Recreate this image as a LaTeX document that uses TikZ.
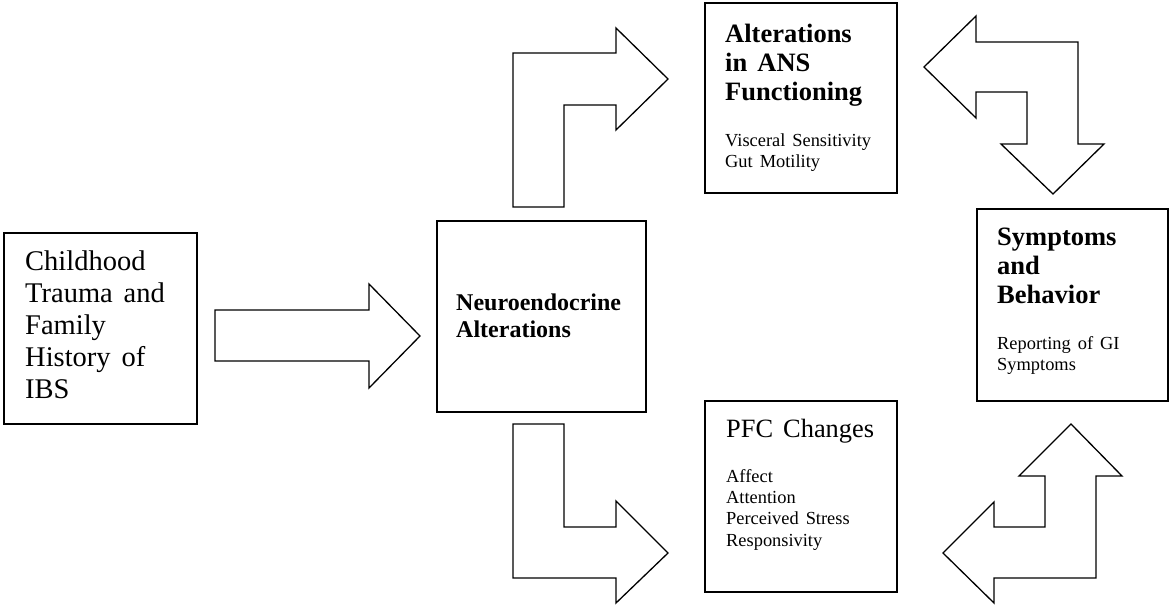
\documentclass[tikz,border=0pt]{standalone}
\usepackage{fontspec}
\setmainfont{Liberation Serif}
\usepackage{tikz}

\newcommand{\wordgap}{\spaceskip=0.38em plus 0.05em\relax}
\newcommand{\bigtext}{\fontsize{28.5}{32}\selectfont\wordgap}
\newcommand{\headtext}{\fontsize{26.5}{29}\selectfont\bfseries\wordgap}
\newcommand{\itemtext}{\fontsize{18.4}{21.3}\selectfont\mdseries\wordgap}

\tikzset{
  box/.style={draw, line width=1.8pt, inner sep=0pt},
  boxtext/.style={anchor=base west, inner sep=0pt, align=left},
  blockarrow/.style={draw, line width=1.3pt, line join=miter, fill=white}
}

\begin{document}
\begin{tikzpicture}[x=1pt, y=-1pt]
  \fill[white] (0,0) rectangle (1170,606);
  \useasboundingbox (0,0) rectangle (1170,606);

  % boxes
  \node (child) at (100.5,328.5) [box, minimum width=193pt, minimum height=191pt] {};
  \node (neuro) at (541.5,316.5) [box, minimum width=209pt, minimum height=191pt] {};
  \node (ans) at (801,98) [box, minimum width=192pt, minimum height=190pt] {};
  \node (pfc) at (801,496.5) [box, minimum width=192pt, minimum height=191pt] {};
  \node (symp) at (1072.5,305) [box, minimum width=191pt, minimum height=192pt] {};

  % box texts
  \node (childtext) at (25,270) [boxtext, text width=172pt] {\bigtext Childhood\\Trauma and\\Family\\History of\\IBS\par};
  \node (neurotext) at (456,310) [boxtext, text width=185pt] {\fontsize{24}{27}\selectfont\bfseries Neuroendocrine\\Alterations\par};
  \node (anstext) at (725,42) [boxtext, text width=168pt] {\headtext Alterations\\in ANS\\Functioning\par\vspace{25pt}\itemtext Visceral Sensitivity\\Gut Motility\par};
  \node (pfctext) at (726,437) [boxtext, text width=168pt] {\fontsize{26.4}{29}\selectfont\wordgap PFC Changes\par\vspace{24pt}\itemtext Affect\\Attention\\Perceived Stress\\Responsivity\par};
  \node (symptext) at (997,245) [boxtext, text width=165pt] {\headtext Symptoms\\and\\Behavior\par\vspace{25pt}\itemtext Reporting of GI\\Symptoms\par};

  % block arrows
  \draw[blockarrow] (215,310) -- (369,310) -- (369,284) -- (420,336) -- (369,388) -- (369,361) -- (215,361) -- cycle;
  \draw[blockarrow] (513,207) -- (513,53) -- (616,53) -- (616,28) -- (668,79) -- (616,130) -- (616,105) -- (564,105) -- (564,207) -- cycle;
  \draw[blockarrow] (513,424) -- (513,578) -- (616,578) -- (616,603) -- (668,553) -- (616,501) -- (616,527) -- (564,527) -- (564,424) -- cycle;
  \draw[blockarrow] (924,67) -- (976,16) -- (976,42) -- (1078,42) -- (1078,144) -- (1104,144) -- (1053,194) -- (1001,144) -- (1027,144) -- (1027,92) -- (976,92) -- (976,118) -- cycle;
  \draw[blockarrow] (1071,424) -- (1122,476) -- (1096,476) -- (1096,578) -- (994,578) -- (994,603) -- (943,553) -- (994,502) -- (994,527) -- (1045,527) -- (1045,476) -- (1019,476) -- cycle;
\end{tikzpicture}
\end{document}
